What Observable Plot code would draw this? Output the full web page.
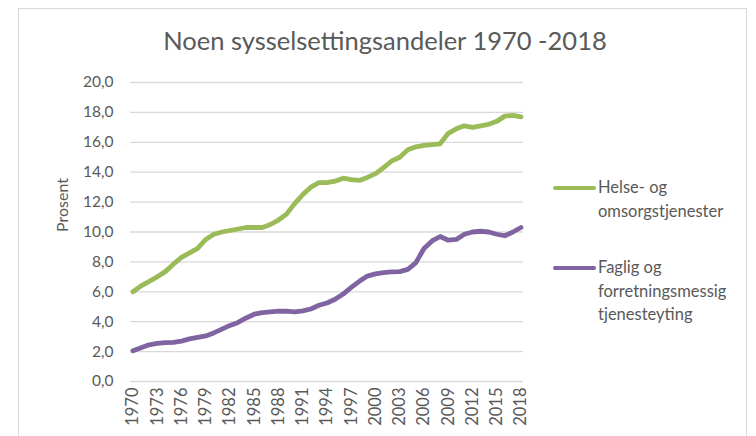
<!DOCTYPE html>
<html>
<head>
<meta charset="utf-8">
<script src="https://cdn.jsdelivr.net/npm/d3@7"></script>
<script src="https://cdn.jsdelivr.net/npm/@observablehq/plot@0.6"></script>
<style>
  html, body { margin: 0; padding: 0; background: #fff; }
  #wrap { position: relative; width: 756px; height: 436px; overflow: hidden; font-family: Lato, "Open Sans", sans-serif; color: #595959; }
  #frame { position: absolute; left: 18px; top: 8px; width: 729px; height: 440px; border: 1px solid #d9d9d9; box-sizing: border-box; }
  #title { position: absolute; left: 0; width: 770px; top: 25px; text-align: center; font-size: 25.5px; color: #595959; }
  .leg { position: absolute; font-size: 16.5px; line-height: 23.5px; color: #595959; }
  .sw { position: absolute; height: 4px; border-radius: 2px; }
  #chart { position: absolute; left: 0; top: 0; }
</style>
</head>
<body>
<div id="wrap">
  <div id="frame"></div>
  <div id="chart"></div>
  <div id="title">Noen sysselsettingsandeler 1970 -2018</div>
  <div id="legend"></div>
</div>
<script>
const years = d3.range(1970, 2019);
const seriesNames = ["Helse- og omsorgstjenester", "Faglig og forretningsmessig tjenesteyting"];
const seriesLabels = [["Helse- og", "omsorgstjenester"], ["Faglig og", "forretningsmessig", "tjenesteyting"]];
const seriesColors = ["#9BBB59", "#8064A2"];
const helse = [6.0, 6.4, 6.7, 7.0, 7.35, 7.85, 8.3, 8.6, 8.9, 9.5,
  9.85, 10.0, 10.1, 10.2, 10.3, 10.3, 10.3, 10.5, 10.8, 11.2,
  11.9, 12.5, 13.0, 13.3, 13.3, 13.4, 13.6, 13.5, 13.45, 13.65,
  13.9, 14.3, 14.75, 15.0, 15.5, 15.7, 15.8, 15.85, 15.9, 16.6,
  16.9, 17.1, 17.0, 17.1, 17.2, 17.4, 17.75, 17.8, 17.7];
const faglig = [2.05, 2.25, 2.45, 2.55, 2.6, 2.62, 2.7, 2.85, 2.95, 3.05,
  3.25, 3.5, 3.75, 3.95, 4.25, 4.5, 4.6, 4.65, 4.7, 4.7,
  4.65, 4.72, 4.85, 5.1, 5.25, 5.5, 5.85, 6.3, 6.7, 7.05,
  7.2, 7.28, 7.33, 7.35, 7.5, 7.95, 8.9, 9.4, 9.7, 9.45,
  9.5, 9.85, 10.0, 10.05, 10.0, 9.85, 9.75, 10.0, 10.3];
const xTicks = d3.range(1970, 2019, 3);
const yTicks = d3.range(0, 21, 2);

const data = [];
[helse, faglig].forEach((vals, i) => {
  vals.forEach((v, j) => data.push({year: years[j], value: v, series: seriesNames[i]}));
});

const fmt = d => d.toFixed(1).replace(".", ",");

const chart = Plot.plot({
  width: 756,
  height: 436,
  marginLeft: 130,
  marginRight: 233,
  marginTop: 82,
  marginBottom: 55,
  style: {background: "transparent", color: "#595959", fontFamily: "Lato, 'Open Sans', sans-serif", overflow: "visible"},
  x: {domain: [1970, 2018], inset: 2.5, ticks: xTicks, tickFormat: d => String(d), tickRotate: -90, tickSize: 0, tickPadding: 6, label: null},
  y: {domain: [0, 20], ticks: yTicks, tickFormat: fmt, tickSize: 0, tickPadding: 17, label: null},
  color: {domain: seriesNames, range: seriesColors},
  marks: [
    Plot.ruleY(yTicks, {stroke: "#d9d9d9", strokeWidth: 1.3}),
    Plot.line(data, {x: "year", y: "value", z: "series", stroke: "series", strokeWidth: 4.8, curve: "linear", strokeLinejoin: "round", strokeLinecap: "round"}),
    Plot.text(["Prosent"], {frameAnchor: "left", dx: -68, rotate: -90, text: d => d, fontSize: 16, fill: "#595959"})
  ]
});
chart.querySelectorAll("g[aria-label='x-axis tick label'] text").forEach(t => t.setAttribute("font-size", "16.5"));
chart.querySelectorAll("g[aria-label='y-axis tick label'] text").forEach(t => t.setAttribute("font-size", "15.5"));
const xl = chart.querySelector("g[aria-label='x-axis tick label']");
if (xl) xl.setAttribute("font-size", "16.5");
const yl = chart.querySelector("g[aria-label='y-axis tick label']");
if (yl) yl.setAttribute("font-size", "15.5");
document.getElementById("chart").appendChild(chart);

// legend
const legend = document.getElementById("legend");
const legTops = [188, 268];
seriesLabels.forEach((lines, i) => {
  const sw = document.createElement("div");
  sw.className = "sw";
  sw.style.left = "553px"; sw.style.width = "43px";
  sw.style.top = (legTops[i] - 2) + "px";
  sw.style.background = seriesColors[i];
  legend.appendChild(sw);
  const t = document.createElement("div");
  t.className = "leg";
  t.style.left = "598px";
  t.style.top = (legTops[i] - 12) + "px";
  t.innerHTML = lines.join("<br>");
  legend.appendChild(t);
});
</script>
</body>
</html>
